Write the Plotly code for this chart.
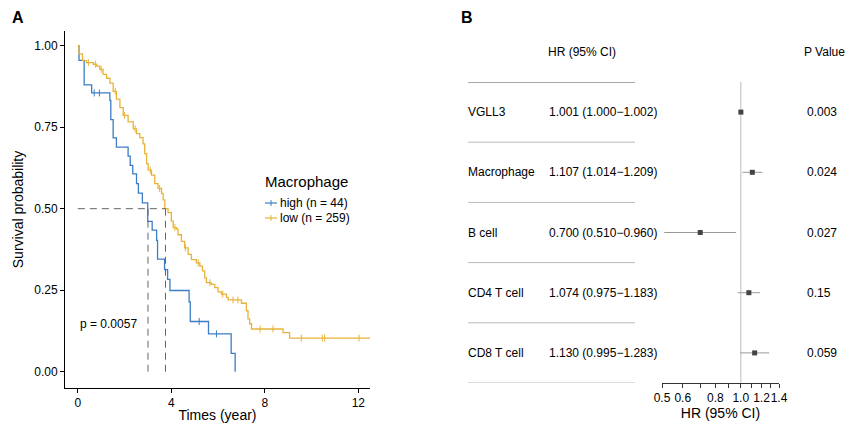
import numpy as np
import plotly.graph_objects as go

# ---------------- Panel A data (Kaplan-Meier) ----------------
high_times = [0, 0.05, 0.27, 0.59, 1.37, 1.41, 1.51, 1.65, 2.15, 2.24, 2.35, 2.51, 2.59,
              2.76, 2.99, 3.18, 3.37, 3.41, 3.71, 3.84, 3.94, 4.76, 4.81, 5.59, 6.56, 6.73]
high_surv = [1.0, 0.955, 0.88, 0.855, 0.832, 0.773, 0.717, 0.689, 0.661, 0.633, 0.607, 0.577, 0.548,
             0.518, 0.461, 0.434, 0.403, 0.345, 0.313, 0.283, 0.249, 0.214, 0.154, 0.116, 0.056, 0.0]
high_censor = [0.70, 0.92, 5.19, 5.93]

low_times = [0, 0.05, 0.20, 0.37, 0.66, 0.80, 0.94, 1.08, 1.23, 1.37, 1.51, 1.65, 1.80, 1.94,
             2.15, 2.37, 2.51, 2.65, 2.79, 2.86, 2.94, 3.01, 3.15, 3.29, 3.43, 3.58, 3.65, 3.72,
             3.86, 4.00, 4.08, 4.22, 4.29, 4.43, 4.57, 4.72, 4.86, 5.07, 5.22, 5.33, 5.43, 5.50,
             5.71, 5.86, 6.00, 6.14, 6.36, 6.43, 7.00, 7.21, 7.28, 7.35, 7.43, 8.78, 9.06, 12.6]
low_surv = [1.0, 0.975, 0.954, 0.948, 0.943, 0.937, 0.927, 0.912, 0.900, 0.885, 0.860, 0.836, 0.810, 0.786,
            0.766, 0.745, 0.730, 0.718, 0.699, 0.669, 0.638, 0.618, 0.603, 0.577, 0.562, 0.547, 0.527, 0.500,
            0.488, 0.462, 0.442, 0.437, 0.420, 0.400, 0.380, 0.360, 0.344, 0.334, 0.324, 0.309, 0.288, 0.273,
            0.268, 0.258, 0.245, 0.238, 0.228, 0.220, 0.210, 0.187, 0.162, 0.147, 0.131, 0.120, 0.103, 0.103]
low_censor = [0.45, 0.75, 1.0, 1.6, 2.0, 2.45, 3.1, 3.5, 4.15, 4.6, 5.15, 5.65, 6.2, 6.64, 6.85,
              7.8, 8.35, 9.56, 10.46, 10.56, 12.03]

medians = [3.0, 3.75]
legend_title = "Macrophage"
group_labels = ["high (n = 44)", "low (n = 259)"]
p_text = "p = 0.0057"

# ---------------- Panel B data (Cox forest plot) ----------------
names = ["VGLL3", "Macrophage", "B cell", "CD4 T cell", "CD8 T cell"]
hr = [1.001, 1.107, 0.700, 1.074, 1.130]
ci_lo = [1.000, 1.014, 0.510, 0.975, 0.995]
ci_hi = [1.002, 1.209, 0.960, 1.183, 1.283]
pvals = ["0.003", "0.024", "0.027", "0.15", "0.059"]
hr_ticks = [0.5, 0.6, 0.7, 0.8, 0.9, 1.0, 1.1, 1.2, 1.3, 1.4]
hr_ticktext = ["0.5", "0.6", "", "0.8", "", "1.0", "", "1.2", "", "1.4"]

BLUE = "#3C7DC4"
ORANGE = "#E8B33A"
FONT = "Liberation Sans, Arial, sans-serif"
W, H = 845, 423


def px_x(x):
    return x / W


def px_y(y):
    return 1 - y / H


def step_at(times, surv, t):
    idx = np.searchsorted(np.array(times), t, side="right") - 1
    return np.array(surv)[idx]


fig = go.Figure()

# KM curves
for times, surv, cens, col in [(high_times, high_surv, high_censor, BLUE),
                               (low_times, low_surv, low_censor, ORANGE)]:
    fig.add_trace(go.Scatter(x=times, y=surv, mode="lines", line=dict(color=col, width=1.3, shape="hv"),
                             showlegend=False, xaxis="x", yaxis="y", hoverinfo="skip"))
    fig.add_trace(go.Scatter(x=cens, y=step_at(times, surv, cens), mode="markers",
                             marker=dict(symbol="line-ns-open", size=5, color=col,
                                         line=dict(color=col, width=1)),
                             showlegend=False, xaxis="x", yaxis="y", hoverinfo="skip"))

# median dashed lines
fig.add_trace(go.Scatter(x=[0, max(medians)], y=[0.5, 0.5], mode="lines",
                         line=dict(color="#666666", width=1, dash="7px,5px"), showlegend=False,
                         xaxis="x", yaxis="y", hoverinfo="skip"))
for m in medians:
    fig.add_trace(go.Scatter(x=[m, m], y=[0, 0.5], mode="lines",
                             line=dict(color="#666666", width=1, dash="7px,5px"), showlegend=False,
                             xaxis="x", yaxis="y", hoverinfo="skip"))

# Forest plot
ypos = list(range(len(names), 0, -1))
fig.add_trace(go.Scatter(x=[1, 1], y=[0.5, 5.5], mode="lines", line=dict(color="#D3D3D3", width=1.5),
                         showlegend=False, xaxis="x2", yaxis="y2", hoverinfo="skip"))
fig.add_trace(go.Scatter(
    x=hr, y=ypos, mode="markers",
    marker=dict(symbol="square", size=5, color="#444444"),
    error_x=dict(type="data", symmetric=False,
                 array=[h - m for h, m in zip(ci_hi, hr)],
                 arrayminus=[m - l for m, l in zip(hr, ci_lo)],
                 color="#999999", thickness=1, width=0),
    showlegend=False, xaxis="x2", yaxis="y2", hoverinfo="skip"))

ann = []
shapes = []
ann.append(dict(text="<b>A</b>", x=px_x(10), y=px_y(18), xref="paper", yref="paper",
                xanchor="left", yanchor="middle", showarrow=False, font=dict(size=16, color="black")))
ann.append(dict(text="<b>B</b>", x=px_x(459), y=px_y(18), xref="paper", yref="paper",
                xanchor="left", yanchor="middle", showarrow=False, font=dict(size=16, color="black")))
ann.append(dict(text=p_text, x=0, y=0.145, xref="x", yref="y", xanchor="left", yanchor="middle",
                showarrow=False, font=dict(size=12, color="black")))

# legend (drawn manually to match compact ggplot style)
ann.append(dict(text=legend_title, x=px_x(263), y=px_y(181), xref="paper", yref="paper",
                xanchor="left", yanchor="middle", showarrow=False, font=dict(size=15, color="black")))
for lab, col, yy in zip(group_labels, [BLUE, ORANGE], [203, 218]):
    ann.append(dict(text=lab, x=px_x(278), y=px_y(yy), xref="paper", yref="paper",
                    xanchor="left", yanchor="middle", showarrow=False, font=dict(size=12, color="black")))
    shapes.append(dict(type="line", xref="paper", yref="paper", x0=px_x(265), x1=px_x(277),
                       y0=px_y(yy), y1=px_y(yy), line=dict(color=col, width=1.2)))
    shapes.append(dict(type="line", xref="paper", yref="paper", x0=px_x(271), x1=px_x(271),
                       y0=px_y(yy - 3), y1=px_y(yy + 3), line=dict(color=col, width=1)))

ann.append(dict(text="HR (95% CI)", x=px_x(546), y=px_y(52), xref="paper", yref="paper",
                xanchor="left", yanchor="middle", showarrow=False, font=dict(size=12, color="black")))
ann.append(dict(text="P Value", x=px_x(802), y=px_y(52), xref="paper", yref="paper",
                xanchor="left", yanchor="middle", showarrow=False, font=dict(size=12, color="black")))
for n, h, l, u, p, yy in zip(names, hr, ci_lo, ci_hi, pvals, ypos):
    ann.append(dict(text=n, x=px_x(466), y=yy, xref="paper", yref="y2", xanchor="left",
                    yanchor="middle", showarrow=False, font=dict(size=12, color="black")))
    ann.append(dict(text=f"{h:.3f} ({l:.3f}\u2212{u:.3f})", x=px_x(547), y=yy, xref="paper", yref="y2",
                    xanchor="left", yanchor="middle", showarrow=False, font=dict(size=12, color="black")))
    ann.append(dict(text=p, x=px_x(805), y=yy, xref="paper", yref="y2", xanchor="left",
                    yanchor="middle", showarrow=False, font=dict(size=12, color="black")))

shapes.append(dict(type="line", xref="paper", yref="y2", x0=px_x(468), x1=px_x(635), y0=5.5, y1=5.5,
                   line=dict(color="#555555", width=1)))
for k in range(len(names)):
    yy = 4.5 - k
    shapes.append(dict(type="line", xref="paper", yref="y2", x0=px_x(468), x1=px_x(635), y0=yy, y1=yy,
                       line=dict(color="#BBBBBB", width=1)))

fig.update_layout(
    width=W, height=H, margin=dict(l=0, r=0, t=0, b=0, autoexpand=False),
    paper_bgcolor="white", plot_bgcolor="white",
    font=dict(family=FONT, color="black", size=12),
    showlegend=False,
    xaxis=dict(domain=[px_x(65), px_x(370)], range=[-0.55, 12.5], tickvals=[0, 4, 8, 12],
               showline=True, linecolor="black", linewidth=1, ticks="outside", ticklen=4,
               tickcolor="black", showgrid=False, zeroline=False, automargin=False,
               title=dict(text="Times (year)", font=dict(size=14), standoff=2),
               tickfont=dict(size=12)),
    yaxis=dict(domain=[px_y(388), px_y(31)], range=[-0.05, 1.045], tickvals=[0, 0.25, 0.5, 0.75, 1.0],
               tickformat=".2f", showline=True, linecolor="black", linewidth=1, ticks="outside",
               ticklen=4, tickcolor="black", showgrid=False, zeroline=False, automargin=False,
               title=dict(text="Survival probability", font=dict(size=14), standoff=7),
               tickfont=dict(size=12)),
    xaxis2=dict(domain=[px_x(662), px_x(779)], type="log", range=[np.log10(0.5), np.log10(1.4)],
                tickvals=hr_ticks, ticktext=hr_ticktext, tickangle=0, showline=True, linecolor="#333333",
                linewidth=1, ticks="outside", ticklen=4, tickcolor="#333333", showgrid=False,
                zeroline=False, anchor="y2", automargin=False,
                title=dict(text="HR (95% CI)", font=dict(size=14), standoff=2),
                tickfont=dict(size=12)),
    yaxis2=dict(domain=[px_y(383), px_y(82)], range=[0.5, 5.5], visible=False, anchor="x2",
                automargin=False),
    annotations=ann, shapes=shapes,
)

fig.write_html("out.html", config={"displayModeBar": False},
               post_script="document.body.style.margin='0';document.body.style.overflow='hidden';")
